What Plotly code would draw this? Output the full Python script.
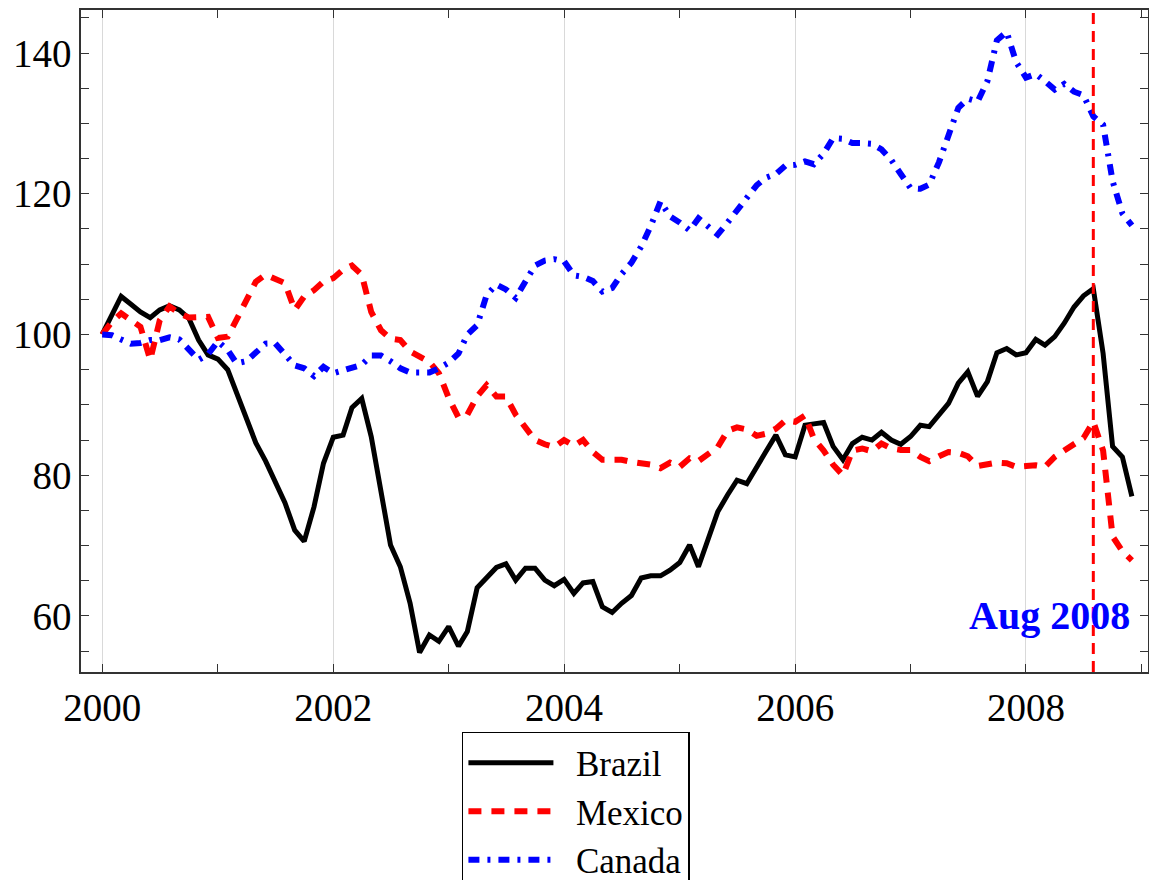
import pandas as pd
import plotly.graph_objects as go

# Monthly index values (Jan 2000 = 100), Jan 2000 .. Dec 2008
start_month = "2000-01-01"
brazil = [100.0, 102.6, 105.4, 104.3, 103.2, 102.4, 103.5, 104.1, 103.5, 102.3,
          99.2, 97.1, 96.5, 95.0, 91.6, 88.0, 84.6, 82.0, 79.1, 76.1,
          72.2, 70.6, 75.5, 81.7, 85.4, 85.7, 89.6, 90.9, 85.5, 77.2,
          70.1, 67.0, 61.8, 54.8, 57.3, 56.4, 58.5, 55.7, 57.8, 64.0,
          65.4, 66.9, 67.4, 65.1, 66.8, 66.8, 65.1, 64.3, 65.2, 63.2,
          64.7, 64.9, 61.3, 60.5, 61.8, 62.9, 65.4, 65.7, 65.7, 66.5,
          67.6, 70.1, 67.0, 71.0, 74.8, 77.2, 79.3, 78.8, 81.0, 83.4,
          85.7, 82.9, 82.6, 87.1, 87.3, 87.5, 84.1, 82.2, 84.5, 85.4,
          85.0, 86.1, 85.0, 84.4, 85.5, 87.1, 86.9, 88.6, 90.2, 93.1,
          94.7, 91.2, 93.3, 97.4, 98.0, 97.1, 97.4, 99.3, 98.5, 99.7,
          101.6, 103.9, 105.5, 106.5, 97.3, 84.1, 82.6, 77.0]

mexico = [100.0, 101.8, 103.0, 102.1, 101.1, 96.4, 102.0, 104.0, 103.0, 102.4,
          102.4, 102.5, 99.5, 99.7, 102.1, 105.1, 107.5, 108.5, 108.0, 107.3,
          103.5, 105.4, 106.3, 107.5, 108.0, 109.2, 109.8, 108.5, 103.2, 100.6,
          99.4, 99.2, 97.6, 96.9, 96.1, 94.5, 91.0, 88.2, 88.6, 91.2,
          92.8, 91.2, 91.2, 88.6, 86.8, 85.0, 84.4, 84.0, 85.0, 84.2,
          85.0, 83.3, 82.2, 82.2, 82.2, 81.9, 81.7, 81.5, 81.0, 81.8,
          81.2, 82.4, 82.0, 83.0, 84.0, 86.3, 86.8, 86.5, 85.6, 85.9,
          86.6, 87.8, 87.6, 88.5, 85.2, 83.5, 81.5, 80.0, 83.5, 83.8,
          83.4, 84.5, 83.8, 83.6, 83.6, 82.6, 82.0, 82.7, 83.3, 83.2,
          82.7, 81.3, 81.6, 81.8, 81.7, 81.2, 81.3, 81.4, 81.2, 82.6,
          83.5, 84.3, 85.3, 87.6, 83.5, 71.3, 69.2, 67.9]

canada = [100.0, 99.9, 99.3, 98.7, 98.8, 99.2, 99.2, 99.6, 99.3, 98.0,
          96.4, 97.2, 99.0, 97.8, 95.9, 96.2, 97.3, 98.7, 98.75, 97.1,
          95.6, 95.2, 94.1, 95.4, 94.5, 94.9, 95.2, 95.7, 97.0, 97.0,
          96.2, 95.2, 94.6, 94.6, 94.6, 95.2, 96.0, 97.3, 100.0, 101.3,
          105.6, 107.1, 106.4, 105.2, 107.5, 109.8, 110.5, 110.7, 110.4, 108.4,
          108.2, 107.6, 106.1, 106.6, 108.6, 110.2, 112.5, 115.4, 118.9, 116.8,
          115.9, 114.8, 116.5, 115.3, 114.2, 115.9, 117.6, 119.3, 121.2, 122.3,
          122.8, 124.0, 124.1, 124.6, 124.2, 125.7, 127.9, 127.8, 127.2, 127.2,
          127.1, 126.3, 124.8, 122.8, 120.8, 120.7, 121.3, 124.5, 128.5, 132.2,
          133.5, 133.1, 136.0, 141.8, 143.0, 138.7, 136.5, 137.0, 136.0, 134.8,
          135.6, 134.5, 134.0, 131.0, 129.8, 121.8, 117.2, 115.5]

series_names = ["Brazil", "Mexico", "Canada"]
event_date = "2008-08-01"
event_label = "Aug 2008"

dates = pd.date_range(start_month, periods=len(brazil), freq="MS")

FONT = "Liberation Serif"
PAD = "\u00a0\u00a0"

fig = go.Figure()
fig.add_trace(go.Scatter(x=dates, y=brazil, mode="lines", name=PAD + series_names[0],
                         line=dict(color="black", width=5)))
fig.add_trace(go.Scatter(x=dates, y=mexico, mode="lines", name=PAD + series_names[1],
                         line=dict(color="red", width=6, dash="13px,10px")))
fig.add_trace(go.Scatter(x=dates, y=canada, mode="lines", name=PAD + series_names[2],
                         line=dict(color="blue", width=6, dash="11px,8px,3px,8px")))

fig.add_vline(x=event_date, line=dict(color="red", width=3, dash="11px,7px"), layer="above")

fig.add_annotation(x=dates[-1], y=60, xref="x", yref="y", text="<b>" + event_label + "</b>",
                   showarrow=False, xanchor="right", yanchor="middle",
                   font=dict(family=FONT, size=40, color="blue"))

axis_common = dict(
    showline=True, linecolor="#333", linewidth=1.5, mirror="ticks",
    ticks="inside", ticklen=8, tickwidth=1.2, tickcolor="#333",
    tickfont=dict(family=FONT, size=39, color="black"),
    zeroline=False,
)

fig.update_xaxes(
    type="date", range=["1999-10-26", "2009-01-21"],
    tick0="2000-01-01", dtick="M24", tickformat="%Y",
    showgrid=True, gridcolor="#d9d9d9", gridwidth=1.2,
    minor=dict(dtick="M12", ticks="inside", ticklen=8, tickwidth=1.2, tickcolor="#333", showgrid=False),
    **axis_common,
)
fig.update_yaxes(
    range=[52.04, 146.11], tick0=0, dtick=20, showgrid=False,
    minor=dict(dtick=5, ticks="inside", ticklen=8, tickwidth=1.2, tickcolor="#333", showgrid=False),
    **axis_common,
)

fig.update_layout(
    width=1149, height=880,
    margin=dict(l=81, r=1, t=10, b=208, autoexpand=False),
    plot_bgcolor="white", paper_bgcolor="white",
    showlegend=True,
    legend=dict(x=0.357, y=-0.0906, xanchor="left", yanchor="top",
                bordercolor="black", borderwidth=1.5, bgcolor="white",
                font=dict(family=FONT, size=35, color="black"),
                itemwidth=85, maxheight=400),
)

fig.write_html("out.html", post_script="document.body.style.margin='0';",
               config={"displayModeBar": False})
